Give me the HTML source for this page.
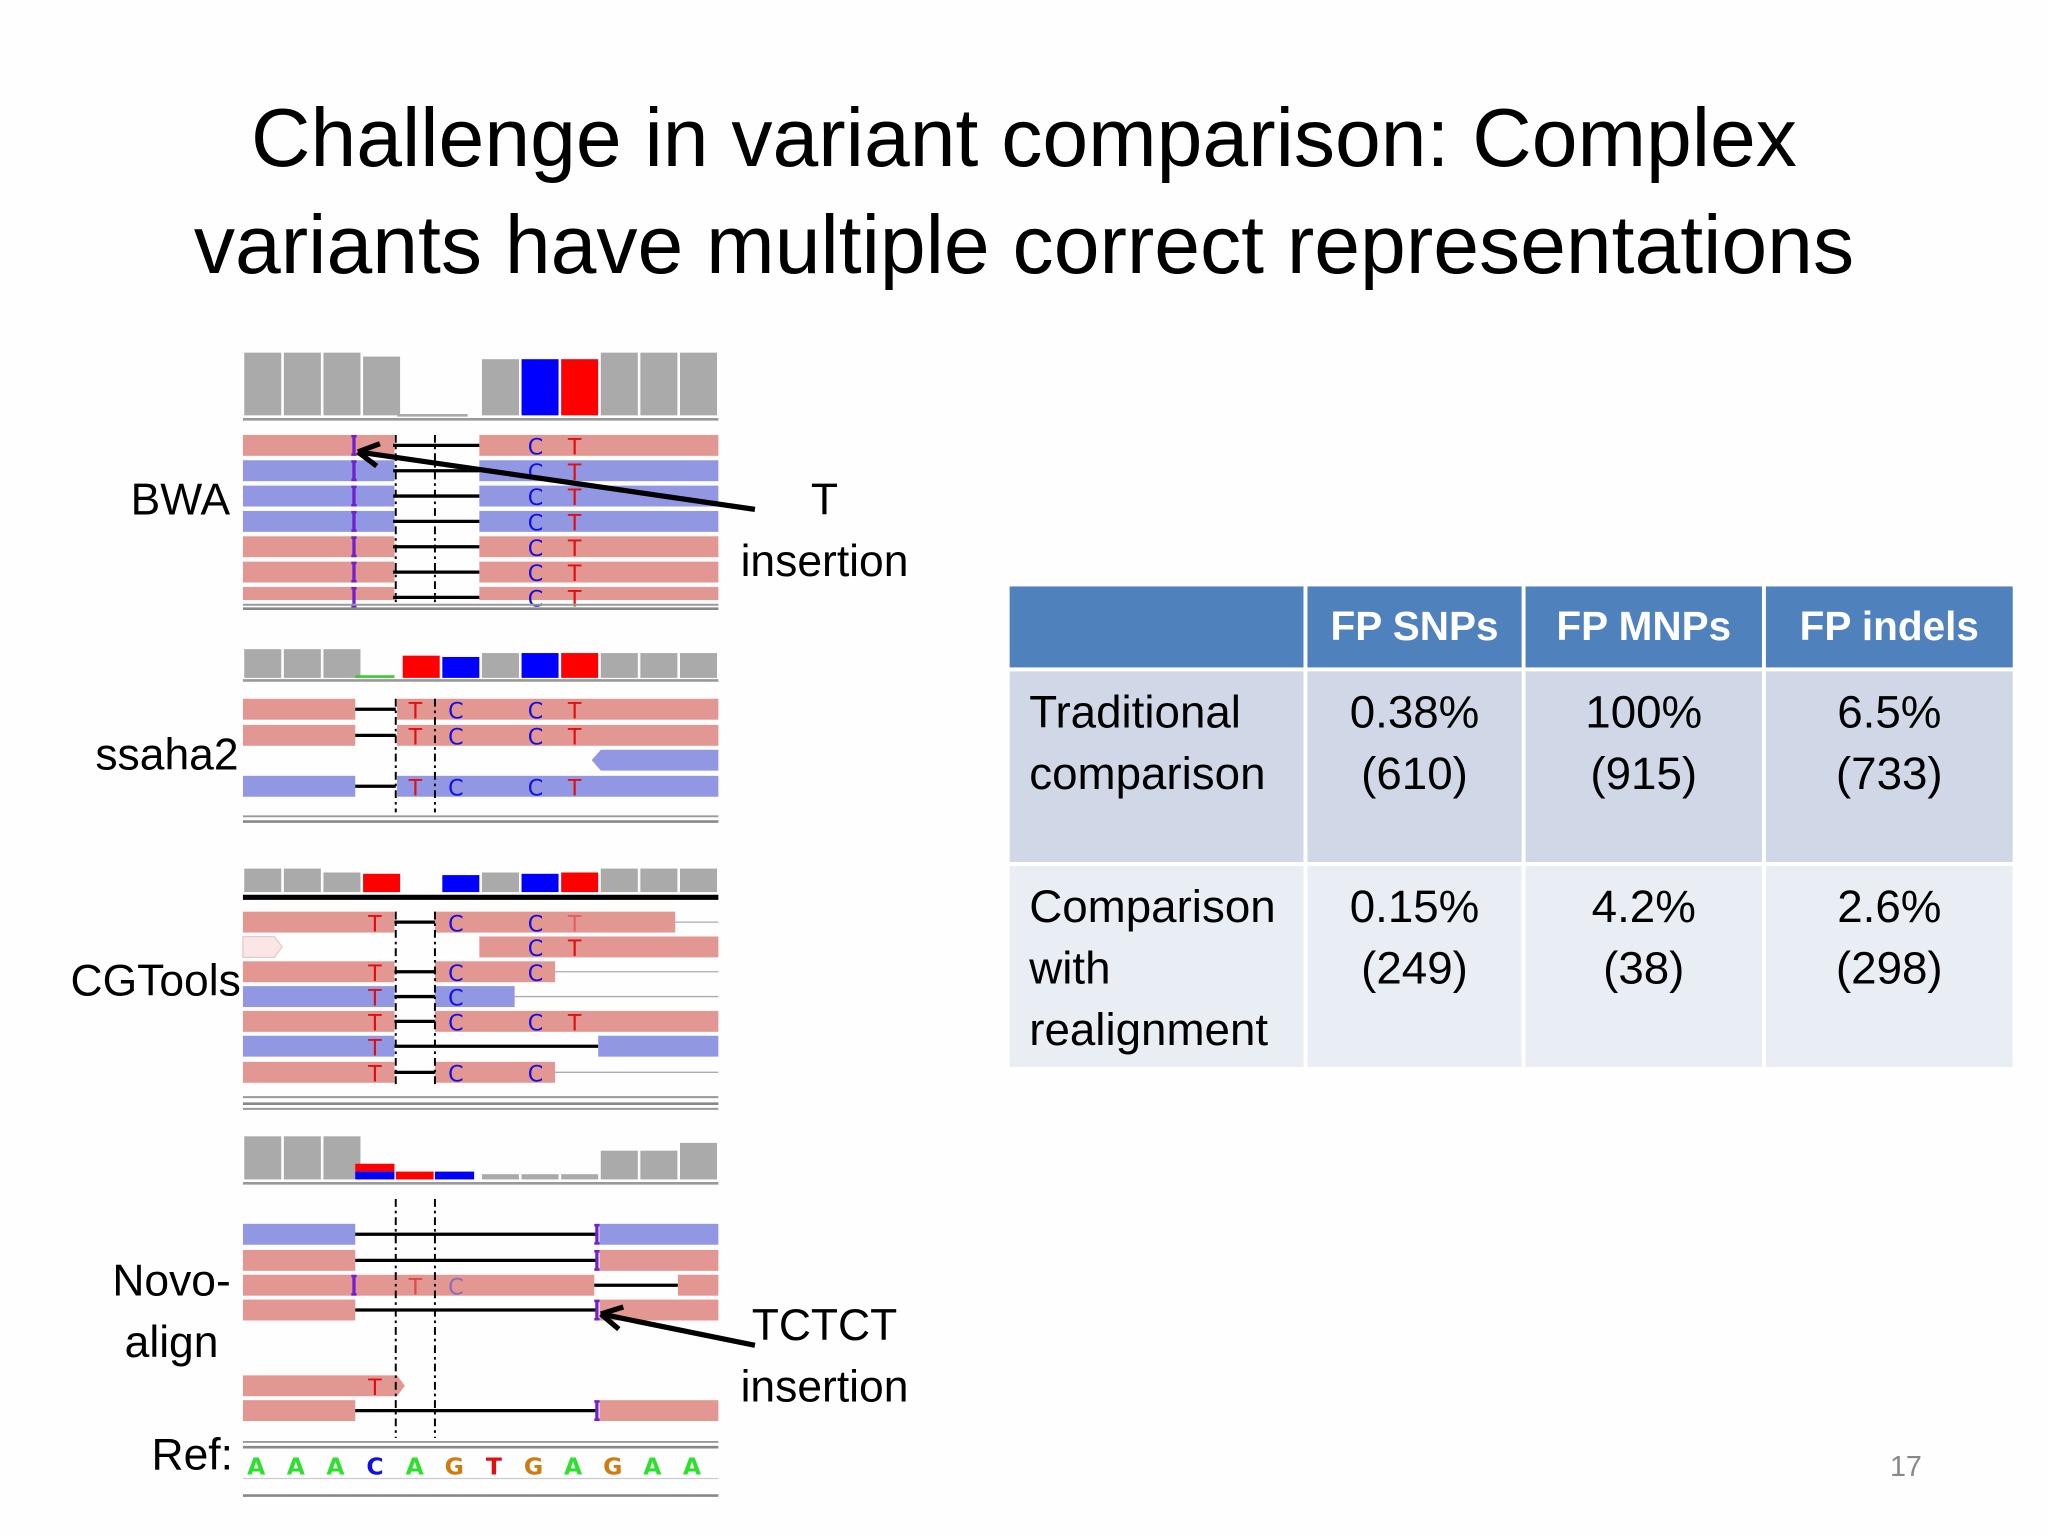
<!DOCTYPE html>
<html><head><meta charset="utf-8">
<style>
html,body{margin:0;padding:0;background:#fff;width:2048px;height:1536px;overflow:hidden}
#s{position:absolute;left:0;top:0;width:1568px;height:1176px;transform:scale(1.30612);transform-origin:0 0;font-family:"Liberation Sans",sans-serif;background:#fefefe}
.a{position:absolute}
.t{position:absolute;white-space:nowrap;color:#000}
.title{left:0;width:1568px;text-align:center;font-size:63px;line-height:82px;top:65px}
.lab{font-size:34px}
table{position:absolute;left:770px;top:446px;border-collapse:collapse;font-size:35px}
td,th{padding:0;border:3px solid #fff;vertical-align:top}
th{background:#4f81bd;color:#fff;font-weight:bold;height:62px;text-align:center;vertical-align:middle;font-size:31px}
td{background:#d0d8e8;line-height:47px;text-align:center;padding-top:8px}
tr.r2 td{background:#e9edf4}
td.h{text-align:left;padding-left:15px}
</style></head><body>
<div id="s">
<div class="t title">Challenge in variant comparison: Complex<br>variants have multiple correct representations</div>

<div class="t lab" style="left:100px;top:364px">BWA</div>
<div class="t lab" style="left:73px;top:559px">ssaha2</div>
<div class="t lab" style="left:54px;top:732px">CGTools</div>
<div class="t lab" style="left:86px;top:958px;line-height:47px;text-align:right">Novo-<br>align&nbsp;</div>
<div class="t lab" style="left:116px;top:1095px">Ref:</div>
<div class="t lab" style="left:567px;top:360px;line-height:47px;text-align:center">T<br>insertion</div>
<div class="t lab" style="left:567px;top:992px;line-height:47px;text-align:center">TCTCT<br>insertion</div>
<div class="t" style="left:1447px;top:1110px;font-size:22px;color:#888">17</div>

<table>
<tr><th style="width:225px"></th><th style="width:164px">FP SNPs</th><th style="width:181px">FP MNPs</th><th style="width:189px">FP indels</th></tr>
<tr><td class="h" style="height:138px">Traditional<br>comparison</td><td>0.38%<br>(610)</td><td>100%<br>(915)</td><td>6.5%<br>(733)</td></tr>
<tr class="r2"><td class="h" style="height:146px">Comparison<br>with<br>realignment</td><td>0.15%<br>(249)</td><td>4.2%<br>(38)</td><td>2.6%<br>(298)</td></tr>
</table>

<svg class="a" style="left:0;top:0" width="1568" height="1176" id="g"></svg>
</div>
<script>
const refBases=["A","A","A","C","A","G","T","G","A","G","A","A"];
const baseColors={A:"#2ee02e",C:"#1010e0",G:"#d07a10",T:"#e01010"};
const R="#e39793",B="#9297e3",GR="#aaaaaa";
const X0=186,CW=30.33;
const cx=i=>X0+i*CW;
const svg=document.getElementById('g');
const NS="http://www.w3.org/2000/svg";
function el(t,a,txt){const e=document.createElementNS(NS,t);for(const k in a)e.setAttribute(k,a[k]);if(txt)e.textContent=txt;svg.appendChild(e);return e;}
function rect(x,y,w,h,f,n){const e=el('rect',{x:x,y:y,width:w,height:h,fill:f});

return e;}
function line(x1,y1,x2,y2,c,w,d,n){const e=el('line',{x1:x1,y1:y1,x2:x2,y2:y2,stroke:c,'stroke-width':w});if(d)e.setAttribute('stroke-dasharray',d);

return e;}
function txt(x,y,s,c,n,op){const e=el('text',{x:x,y:y,fill:c,'font-size':17,'font-family':'DejaVu Sans, sans-serif','text-anchor':'middle',opacity:op||1},s);

return e;}
function ins(x,y,n){line(x,y+1,x,y+15,'#7020d0',2.5,null,n);line(x-2,y+1,x+2,y+1,'#7020d0',2,null,n);line(x-2,y+15,x+2,y+15,'#7020d0',2,null,n);}
function cov(base,tops,cols){for(let i=0;i<12;i++){if(tops[i]==null)continue;rect(cx(i)+1,tops[i],CW-2,base-tops[i],cols[i]||GR,'coverage-bar');}}
// BWA
cov(318,[270,270,270,273,null,null,275,275,275,270,270,270],{7:"#0000ff",8:"#ff0000"});
line(304,318,358,318,GR,2,null,'coverage-baseline');
line(186,321,550,321,'#999',2,null,'track-divider');
const bwaRows=[R,B,B,B,R,R,R];
bwaRows.forEach((c,i)=>{const y=333+i*19.4,h=i==6?10:16;rect(186,y,116,h,c,'bwa-read-left');rect(367,y,183,h,c,'bwa-read-right');line(301,y+8,367,y+8,'#000',2.5,null,'deletion-line');ins(271,y,'insertion-mark');
txt(410,y+15,'C','#1010e0','mismatch-c');txt(440,y+15,'T','#e01010','mismatch-t');});
line(303,333,303,461,'#000',1.5,'6 3 2 3','dash-marker');line(333,333,333,461,'#000',1.5,'6 3 2 3','dash-marker');
line(186,463,550,463,'#999',1.5,null,'track-divider');line(186,466,550,466,'#888',2,null,'track-divider');
// ssaha2
cov(519,[497,497,497,null,502,503,500,500,500,500,500,500],{4:"#ff0000",5:"#0000ff",7:"#0000ff",8:"#ff0000"});
line(272,518,302,518,'#3c3',2,null,'coverage-baseline');
line(186,521,550,521,'#999',2,null,'track-divider');
[[535,R],[555,R],[594,B]].forEach(([y,c])=>{rect(186,y,86,16,c,'ssaha-read-left');line(272,y+8,303,y+8,'#000',2.5,null,'deletion-line');rect(304,y,246,16,c,'ssaha-read-right');
txt(318,y+15,'T','#e01010','mismatch-t');txt(349,y+15,'C','#1010e0','mismatch-c');txt(410,y+15,'C','#1010e0','mismatch-c');txt(440,y+15,'T','#e01010','mismatch-t');});
el('polygon',{points:'460,574 550,574 550,590 460,590 453,582',fill:B});
line(303,535,303,622,'#000',1.5,'6 3 2 3','dash-marker');line(333,535,333,622,'#000',1.5,'6 3 2 3','dash-marker');
line(186,625,550,625,'#999',1.5,null,'track-divider');line(186,629,550,629,'#888',2,null,'track-divider');
// CGTools
cov(683,[665,665,668,669,null,670,668,669,668,665,665,665],{3:"#ff0000",5:"#0000ff",7:"#0000ff",8:"#ff0000"});
line(186,687,550,687,'#000',4,null,'track-divider');
const cgRows=[[698,R,517,true,true,true],[736,R,425,true,true,false],[755,B,394,true,false,false],[774,R,550,true,true,true],[813,R,425,true,true,false]];
cgRows.forEach(([y,c,e,a,b2,d])=>{rect(186,y,116,16,c,'cg-read-left');line(302,y+8,333,y+8,'#000',2.5,null,'deletion-line');rect(333,y,e-333,16,c,'cg-read-right');
txt(287,y+15,'T','#e01010','mismatch-t');txt(349,y+15,'C','#1010e0','mismatch-c');if(b2)txt(410,y+15,'C','#1010e0','mismatch-c');if(d)txt(440,y+15,'T','#e01010','mismatch-t',y==698?0.4:1);
if(e<550)line(e,y+8,550,y+8,'#aab',1,null,'read-tail');});
el('polygon',{points:'186,717 210,717 216,725 210,733 186,733',fill:'#fbe6e6',stroke:'#e8c8c8'});
rect(367,717,183,16,R,'cg-read-right');txt(410,732,'C','#1010e0','mismatch-c');txt(440,732,'T','#e01010','mismatch-t');
rect(186,793,116,16,B,'cg-read-left');line(302,801,458,801,'#000',2.5,null,'deletion-line');rect(458,793,92,16,B,'cg-read-right');txt(287,808,'T','#e01010','mismatch-t');
line(303,698,303,830,'#000',1.5,'6 3 2 3','dash-marker');line(333,698,333,830,'#000',1.5,'6 3 2 3','dash-marker');
line(186,840,550,840,'#999',1.5,null,'track-divider');line(186,845,550,845,'#888',2,null,'track-divider');line(186,849,550,849,'#999',1.5,null,'track-divider');
// Novoalign
cov(903,[870,870,870,null,null,null,899,899,899,881,881,875],{});
rect(272,891,30,6,'#ff0000','coverage-bar');rect(272,897,30,6,'#0000ff','coverage-bar');rect(303,897,29,6,'#ff0000','coverage-bar');rect(333,897,30,6,'#0000ff','coverage-bar');
line(186,906,550,906,'#999',2,null,'track-divider');
[[937,B,true],[957,R,true],[995,R,false],[1072,R,true]].forEach(([y,c,r])=>{rect(186,y,86,16,c,'novo-read-left');line(272,y+8,457,y+8,'#000',2.5,null,'deletion-line');if(r)rect(459,y,91,16,c,'novo-read-right');ins(457,y,'insertion-mark');});
rect(459,995,91,16,R,'novo-read-right');
rect(186,976,269,16,R,'novo-read');line(455,984,519,984,'#000',2.5,null,'deletion-line');rect(519,976,31,16,R,'novo-read-right');ins(271,976,'insertion-mark');
txt(318,991,'T','#e01010','mismatch-t',0.6);txt(349,991,'C','#5050d0','mismatch-c',0.6);
el('polygon',{points:'186,1053 304,1053 310,1061 304,1069 186,1069',fill:R});txt(287,1068,'T','#e01010','mismatch-t');
line(303,918,303,1101,'#000',1.5,'6 3 2 3','dash-marker');line(333,918,333,1101,'#000',1.5,'6 3 2 3','dash-marker');
line(186,1104,550,1104,'#999',1.5,null,'track-divider');line(186,1108,550,1108,'#888',2,null,'track-divider');
refBases.forEach((b,i)=>{const e=el('text',{x:cx(i)+CW/2-5,y:1129,fill:baseColors[b],'font-size':18,'font-weight':'bold','font-family':'DejaVu Sans, sans-serif','text-anchor':'middle'},b);

});
line(186,1132,550,1132,'#ccc',1,null,'track-divider');line(186,1145,550,1145,'#888',2,null,'track-divider');
function arrow(x1,y1,x2,y2,n){line(x1,y1,x2,y2,'#000',4,null,n);const a=Math.atan2(y1-y2,x1-x2),L=18;
[0.5,-0.5].forEach(d=>line(x2,y2,x2+L*Math.cos(a+d),y2+L*Math.sin(a+d),'#000',4,null,n));}
arrow(578,390,274,346,'t-insertion-arrow');
arrow(578,1030,460,1006,'tctct-insertion-arrow');
</script>
</body></html>
